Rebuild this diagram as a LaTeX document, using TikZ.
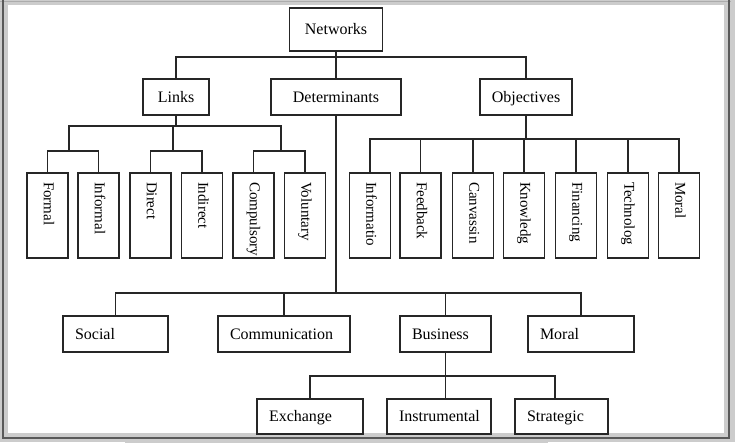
\documentclass[tikz,border=0pt]{standalone}
\usepackage{fontspec}
\setmainfont{Liberation Serif}
\begin{document}
\begin{tikzpicture}[x=1pt,y=-1pt,
  box/.style={draw=black!85, line width=1.3pt, rectangle, inner ysep=0pt, text height=13pt, text depth=2.5pt},
  cbox/.style={box, inner xsep=0pt, minimum height=36pt, font=\fontsize{16}{18}\selectfont},
  lbox/.style={box, inner xsep=12pt, minimum height=36pt, text width=#1, align=left, font=\fontsize{16}{18}\selectfont},
  vbox/.style={box, rotate=-90, minimum width=85pt, minimum height=41pt, inner xsep=9pt, text width=67pt, align=left, text height=11pt, text depth=3.5pt, font=\fontsize{15}{17}\selectfont},
  conn/.style={draw=black!85, line width=1.3pt}]
\useasboundingbox (0,0) rectangle (738,444);
% frame
\fill[gray!40] (0,0) rectangle (735,442);
\fill[white] (8,5) rectangle (724,433);
\draw[gray!65, line width=1.5pt] (0,1.5) -- (731,1.5);
\draw[black!65, line width=2pt] (2.5,0) -- (2.5,437.5) -- (728.5,437.5) -- (728.5,0);
\draw[gray!40, line width=1pt] (125,442.5) -- (548,442.5);
% top levels
\node[cbox, minimum width=93pt, minimum height=43pt] (net) at (336,29.5) {Networks};
\node[cbox, minimum width=66pt] (links) at (176,97) {Links};
\node[cbox, minimum width=130pt] (det) at (336,97) {Determinants};
\node[cbox, minimum width=92pt] (obj) at (526,97) {Objectives};
% links children
\node[vbox] (l1) at (47.5,215.5) {Formal};
\node[vbox] (l2) at (98.5,215.5) {Informal};
\node[vbox] (l3) at (150.5,215.5) {Direct};
\node[vbox] (l4) at (202,215.5) {Indirect};
\node[vbox] (l5) at (253.5,215.5) {Compulsory};
\node[vbox] (l6) at (305,215.5) {Voluntary};
% objectives children
\node[vbox] (o1) at (370,215.5) {Informatio};
\node[vbox] (o2) at (420.5,215.5) {Feedback};
\node[vbox] (o3) at (473,215.5) {Canvassin};
\node[vbox] (o4) at (524,215.5) {Knowledg};
\node[vbox] (o5) at (576,215.5) {Financing};
\node[vbox] (o6) at (628,215.5) {Technolog};
\node[vbox] (o7) at (679,215.5) {Moral};
% determinants children
\node[lbox=81pt] (d1) at (115.5,334) {Social};
\node[lbox=108pt] (d2) at (284,334) {Communication};
\node[lbox=67pt] (d3) at (445.5,334) {Business};
\node[lbox=82pt] (d4) at (581,334) {Moral};
% business children
\node[lbox=82pt, minimum height=35pt] (b1) at (310,416.5) {Exchange};
\node[lbox=80pt, minimum height=35pt] (b2) at (439,416.5) {Instrumental};
\node[lbox=69pt, minimum height=35pt] (b3) at (561.5,416.5) {Strategic};
% coordinates of sub-buses
\coordinate (s1) at (69,151);
\coordinate (s2) at (173,151);
\coordinate (s3) at (281,151);
% connectors: top
\draw[conn] (net.south) -- (det.north);
\draw[conn] (links.north) -- (links.north |- 0,57) -- (obj.north |- 0,57) -- (obj.north);
% links
\draw[conn] (links.south) -- (links.south |- 0,126);
\draw[conn] (s1) -- (s1 |- 0,126) -- (s3 |- 0,126) -- (s3);
\draw[conn] (s2) -- (s2 |- 0,126);
\draw[conn] (l1.west) -- (l1.west |- s1) -- (l2.west |- s1) -- (l2.west);
\draw[conn] (l3.west) -- (l3.west |- s2) -- (l4.west |- s2) -- (l4.west);
\draw[conn] (l5.west) -- (l5.west |- s3) -- (l6.west |- s3) -- (l6.west);
% objectives
\draw[conn] (obj.south) -- (obj.south |- 0,139);
\draw[conn] (o1.west) -- (o1.west |- 0,139) -- (o7.west |- 0,139) -- (o7.west);
\foreach \n in {o2,o3,o4,o5,o6} \draw[conn] (\n.west) -- (\n.west |- 0,139);
% determinants
\draw[conn] (det.south) -- (det.south |- 0,293);
\draw[conn] (d1.north) -- (d1.north |- 0,293) -- (d4.north |- 0,293) -- (d4.north);
\draw[conn] (d2.north) -- (d2.north |- 0,293);
\draw[conn] (d3.north) -- (d3.north |- 0,293);
% business
\draw[conn] (d3.south) -- (b2.north -| d3.south);
\draw[conn] (b1.north) -- (b1.north |- 0,376) -- ([xshift=-6.5pt]b3.north |- 0,376) -- ([xshift=-6.5pt]b3.north);
\end{tikzpicture}
\end{document}
